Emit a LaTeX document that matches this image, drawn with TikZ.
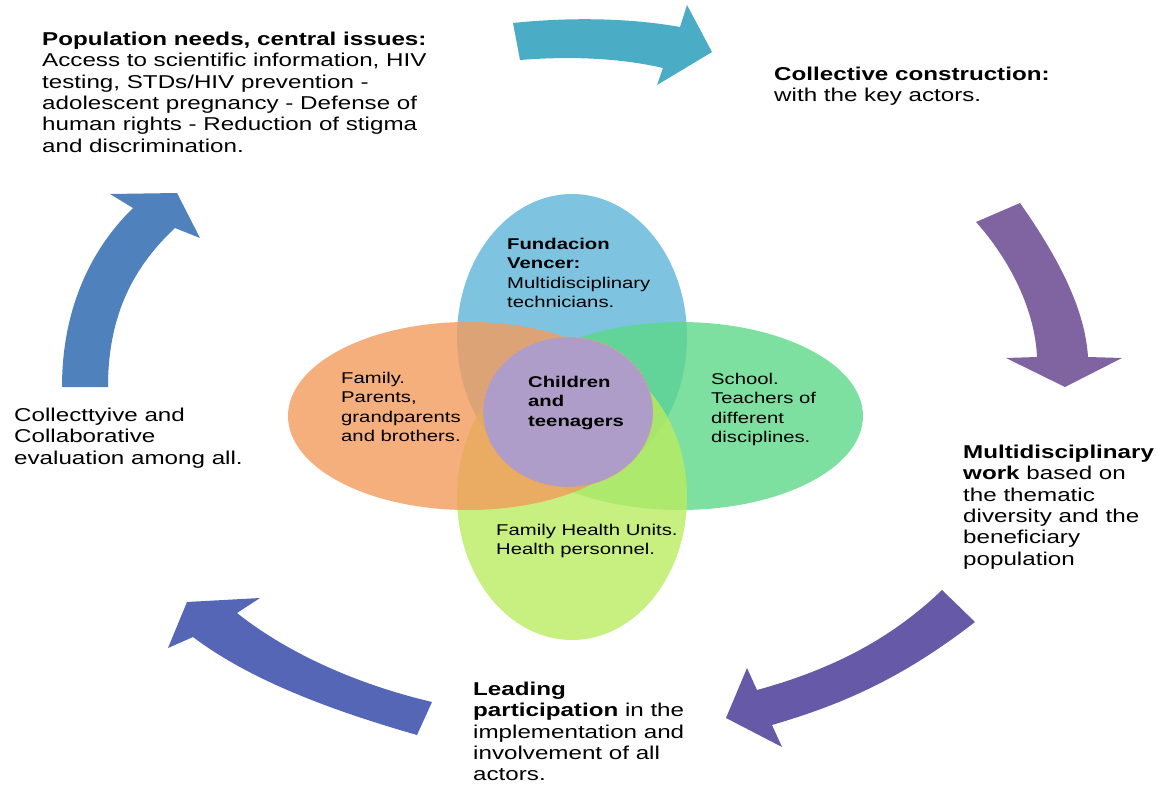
\documentclass[tikz,border=0pt]{standalone}
\usepackage{fontspec}
\setmainfont{Liberation Sans}[FakeStretch=1.3]
\usepackage{tikz}
\usetikzlibrary{shapes.geometric}
\usetikzlibrary{positioning}

\definecolor{petalblue}{HTML}{5EB5D8}
\definecolor{petalorange}{HTML}{F39B5C}
\definecolor{petalgreen}{HTML}{5CD888}
\definecolor{petallime}{HTML}{BAEC60}
\definecolor{hubviolet}{HTML}{AE9DC8}
\definecolor{arrteal}{HTML}{4BACC6}
\definecolor{arrpurple}{HTML}{8064A2}
\definecolor{arrindigo}{HTML}{6659A8}
\definecolor{arrnavy}{HTML}{5566B6}
\definecolor{arrblue}{HTML}{4F81BD}

\begin{document}
\begin{tikzpicture}
	[x=1pt,y=-1pt,
	petal/.style={ellipse,inner sep=0pt,fill opacity=.8},
	outer/.style={anchor=north west,inner sep=0pt,align=left,font=\fontsize{18.6}{21.3}\selectfont},
	inner/.style={anchor=north west,inner sep=0pt,align=left,font=\fontsize{15.6}{19.3}\selectfont}]
	\useasboundingbox (0,0) rectangle (1157,787);
	
	% cycle arrows
	\fill[arrteal] (513,23) .. controls (570,17) and (630,18) .. (680,27) -- (687,5) -- (712,52)
		-- (657,85) -- (663,68) .. controls (620,58) and (570,56) .. (520,60) -- cycle;
	\fill[arrpurple] (976,222) -- (1020,203) .. controls (1060,260) and (1085,310) .. (1088,357)
		-- (1122,358) -- (1065,387) -- (1006,358) -- (1037,357) .. controls (1035,310) and (1010,260) .. cycle;
	\fill[arrindigo] (942,590) -- (975,622) .. controls (900,680) and (840,705) .. (772,725)
		-- (782,747) -- (726,718) -- (747,668) -- (757,690) .. controls (830,670) and (890,640) .. cycle;
	\fill[arrnavy] (432,702) -- (417,735) .. controls (330,710) and (250,680) .. (193,637)
		-- (168,648) -- (187,602) -- (260,598) -- (237,613) .. controls (290,655) and (360,685) .. cycle;
	\fill[arrblue] (62,387) -- (108,387) .. controls (108,320) and (130,270) .. (175,228)
		-- (200,238) -- (177,193) -- (110,194) -- (133,208) .. controls (90,250) and (62,310) .. cycle;
	
	% petals
	\node[petal,fill=petalblue,minimum width=230pt,minimum height=286pt] (fundacion) at (572,337) {};
	\node[petal,fill=petalgreen,minimum width=366pt,minimum height=188pt] (school) at (680,416) {};
	\node[petal,fill=petallime,minimum width=230pt,minimum height=286pt] (health) at (572,497) {};
	\node[petal,fill=petalorange,minimum width=360pt,minimum height=188pt] (family) at (468,416) {};
	\node[ellipse,inner sep=0pt,fill=hubviolet,draw=orange!70,densely dashed,thin,
		minimum width=170pt,minimum height=150pt] (hub) at (568,412) {};
	
	% texts
	\node[inner] (fundaciontxt) at (507,238) {\textbf{Fundacion}\\\textbf{Vencer:}\\Multidisciplinary\\technicians.};
	\node[inner] (familytxt) at (341,372) {Family.\\Parents,\\grandparents\\and brothers.};
	\node[inner] (schooltxt) at (711,373) {School.\\Teachers of\\different\\disciplines.};
	\node[inner] (hubtxt) at (528,376) {\textbf{Children}\\\textbf{and}\\\textbf{teenagers}};
	\node[inner] (healthtxt) at (496,524) {Family Health Units.\\Health personnel.};
	
	\node[outer] (needs) at (42,32) {\textbf{Population needs, central issues:}\\Access to scientific information, HIV\\testing, STDs/HIV prevention -\\adolescent pregnancy - Defense of\\human rights - Reduction of stigma\\and discrimination.};
	\node[outer] (construction) at (774,67) {\textbf{Collective construction:}\\with the key actors.};
	\node[outer] (work) at (963,445) {\textbf{Multidisciplinary}\\\textbf{work} based on\\the thematic\\diversity and the\\beneficiary\\population};
	\node[outer] (leading) at (473,682) {\textbf{Leading}\\\textbf{participation} in the\\implementation and\\involvement of all\\actors.};
	\node[outer] (evaluation) at (14,408) {Collecttyive and\\Collaborative\\evaluation among all.};
\end{tikzpicture}
\end{document}
